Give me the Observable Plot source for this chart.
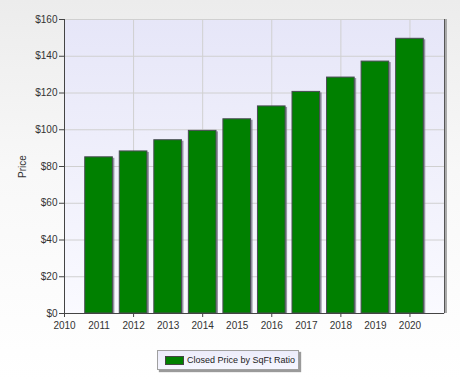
<!DOCTYPE html>
<html>
<head>
<meta charset="utf-8">
<script src="https://cdn.jsdelivr.net/npm/d3@7"></script>
<script src="https://cdn.jsdelivr.net/npm/@observablehq/plot@0.6"></script>
<style>
  html, body { margin: 0; padding: 0; }
  body {
    width: 460px; height: 381px; overflow: hidden; position: relative;
    background: linear-gradient(to bottom, #ececec 0%, #f8f8f8 45%, #ffffff 100%);
    font-family: "Liberation Sans", Arial, sans-serif;
  }
  #chart svg { display: block; background: transparent; }
  #legend {
    position: absolute; left: 157px; top: 350px; width: 142px; height: 20px;
    border: 1px solid #a0a0a0; box-shadow: 2px 2px 1px #9a9a9a;
    background: linear-gradient(to bottom, #ececfa, #f6f6ff);
    font-size: 9px; color: #222; display: flex; align-items: center; box-sizing: border-box;
    white-space: nowrap;
  }
  #legend .sw { flex: none; width: 17px; height: 7px; background: #008000; border: 1px solid #444; margin: 0 3px 0 7px; }
</style>
</head>
<body>
<div id="chart"></div>
<div id="legend"><span class="sw"></span><span id="legend-text"></span></div>
<script>
const years = [2011, 2012, 2013, 2014, 2015, 2016, 2017, 2018, 2019, 2020];
const values = [85, 88.2, 94.3, 99.4, 105.7, 112.7, 120.6, 128.4, 137.1, 149.5];
const seriesName = "Closed Price by SqFt Ratio";
const yLabel = "Price";
const xTicks = [2010, 2011, 2012, 2013, 2014, 2015, 2016, 2017, 2018, 2019, 2020];
const xGridTicks = [2012, 2014, 2016, 2018, 2020];
const xTickMarks = [2010, 2012, 2014, 2016, 2018, 2020];
const yTicks = [0, 20, 40, 60, 80, 100, 120, 140, 160];

const data = years.map((y, i) => ({year: y, value: values[i]}));
const halfW = 0.4;

const gradientDefs = () => {
  const ns = "http://www.w3.org/2000/svg";
  const defs = document.createElementNS(ns, "defs");
  defs.innerHTML = `<linearGradient id="plotbg" x1="0" y1="0" x2="0" y2="1">
    <stop offset="0%" stop-color="#e6e6f8"/>
    <stop offset="100%" stop-color="#fafaff"/>
  </linearGradient>`;
  return defs;
};

const chart = Plot.plot({
  width: 460,
  height: 340,
  marginLeft: 64,
  marginRight: 16,
  marginTop: 19,
  marginBottom: 27,
  style: {fontFamily: "'Liberation Sans', Arial, sans-serif", fontSize: "10px", color: "#333", background: "transparent"},
  x: {domain: [2010, 2021]},
  y: {domain: [0, 160]},
  marks: [
    gradientDefs,
    Plot.frame({fill: "url(#plotbg)", stroke: "#d8d8e0"}),
    Plot.gridY(yTicks, {stroke: "#d0d0d0", strokeOpacity: 1}),
    Plot.gridX(xGridTicks, {stroke: "#d0d0d0", strokeOpacity: 1}),
    Plot.rectY(data, {x1: d => d.year - halfW, x2: d => d.year + halfW, y: "value", fill: "#7a7a8a", dx: 2, dy: 1, fillOpacity: 0.8}),
    Plot.rectY(data, {x1: d => d.year - halfW, x2: d => d.year + halfW, y: "value", fill: "#008000", stroke: "#4a4a55", strokeWidth: 1}),
    Plot.ruleX([2021], {stroke: "#aaaaaa", strokeWidth: 2, dx: 1.5}),
    Plot.ruleX([2021], {stroke: "#555555", strokeWidth: 1}),
    Plot.ruleX([2010], {stroke: "#444444", strokeWidth: 1}),
    Plot.ruleY([0], {stroke: "#444444", strokeWidth: 1}),
    Plot.axisY({ticks: yTicks, tickSize: 5, tickPadding: 2, tickFormat: d => "$" + d, label: yLabel, labelAnchor: "center", labelArrow: "none", labelOffset: 46, stroke: "#444", color: "#333"}),
    Plot.axisX({ticks: xTicks, tickSize: 0, tickPadding: 8, tickFormat: d => String(d), label: null, color: "#333"}),
    Plot.axisX({ticks: xTickMarks, tickSize: 4, tickFormat: () => "", label: null, stroke: "#444"})
  ]
});
document.getElementById("chart").appendChild(chart);
document.getElementById("legend-text").textContent = seriesName;
</script>
</body>
</html>
